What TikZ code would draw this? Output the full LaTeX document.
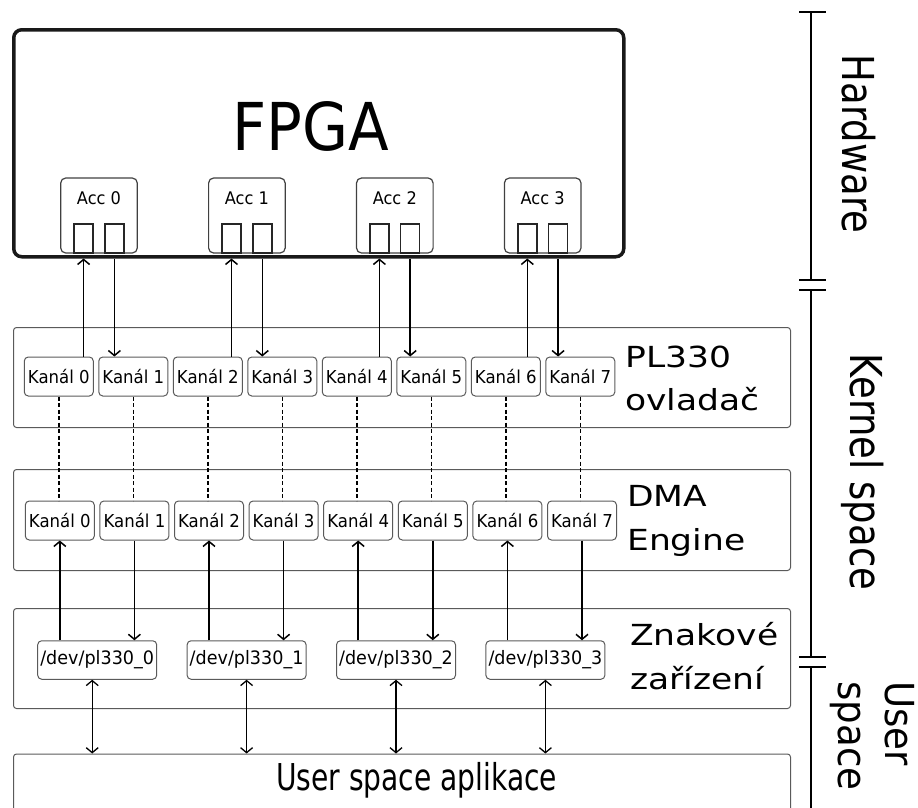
\documentclass[tikz,border=0pt]{standalone}
\usepackage{fontspec}
\setmainfont{DejaVu Sans}
\newfontfamily\fpgafont[FakeStretch=0.9]{DejaVu Sans}
\newfontfamily\layerfont[FakeStretch=1.19]{DejaVu Sans}
\newfontfamily\sidefont[FakeStretch=0.84]{DejaVu Sans}
\newfontfamily\userfont[FakeStretch=0.93]{DejaVu Sans}
\newfontfamily\appfont[FakeStretch=0.76]{DejaVu Sans}
\newfontfamily\smallfont[FakeStretch=0.93]{DejaVu Sans}
\newfontfamily\devfont[FakeStretch=0.95]{DejaVu Sans}
\usetikzlibrary{arrows.meta}
\definecolor{boxgray}{HTML}{5A5A5A}
\begin{document}
\begin{tikzpicture}[x=1pt,y=-1pt,
  layer/.style={draw=boxgray, line width=1pt, rounded corners=3pt, anchor=north west, inner sep=0pt, minimum width=777pt},
  chan/.style={draw=boxgray, line width=1pt, rounded corners=4pt, minimum width=69pt, minimum height=39pt, inner sep=0pt, font=\smallfont\fontsize{17.8}{21}\selectfont},
  devnode/.style={chan, minimum width=119pt, minimum height=38.5pt, font=\devfont\fontsize{18.5}{22}\selectfont},
  accbox/.style={draw=black!75, line width=1.2pt, rounded corners=5pt, minimum width=76.6pt, minimum height=75pt, inner sep=0pt},
  port/.style={draw=black!85, line width=1.4pt, minimum width=19pt, minimum height=29pt, inner sep=0pt},
  arr/.style={line width=1.5pt, -{Straight Barb[length=5pt,width=12pt]}},
  biarr/.style={line width=1.3pt, {Straight Barb[length=5pt,width=12pt]}-{Straight Barb[length=5pt,width=12pt]}},
  dashlink/.style={line width=1.5pt, dash pattern=on 4pt off 2.5pt},
  bracket/.style={line width=1.3pt},
  layerlab/.style={anchor=base west, align=left, inner sep=0pt, font=\layerfont\fontsize{29}{43.4}\selectfont},
  sidelab/.style={rotate=-90, anchor=base, inner sep=0pt, font=\sidefont\fontsize{44}{50}\selectfont},
]
\useasboundingbox (0,0) rectangle (918,807);

% FPGA
\node[draw=black!90, line width=3.5pt, rounded corners=8pt, anchor=north west,
      minimum width=610pt, minimum height=227pt, inner sep=0pt] (fpga) at (12,28) {};
\node[anchor=base, inner sep=0pt, font=\fpgafont\fontsize{66}{70}\selectfont] (fpgalab) at (311,150) {FPGA};

\foreach \i in {0,...,3}{
  \pgfmathsetmacro{\cx}{99+147.9*\i}
  \node[accbox] (acc\i) at (\cx,215.5) {};
  \node[anchor=base, inner sep=0pt, font=\smallfont\fontsize{17.4}{20}\selectfont] (acclab\i) at (\cx,204.3) {Acc \i};
  \node[port] (pa\i) at (\cx-15.4,238.5) {};
  \node[port] (pb\i) at (\cx+15.4,238.5) {};
}

% layers
\node[layer, minimum height=100pt] (plbox) at (13,327) {};
\node[layer, minimum height=101pt] (dmabox) at (13,469) {};
\node[layer, minimum height=100pt] (znbox) at (13,608) {};
\node[layer, minimum height=90pt] (appbox) at (13,753.5) {};

\node[layerlab] (pllab) at (625,410.7) {PL330\\ovladač};
\node[layerlab] (dmalab) at (627,550) {DMA\\Engine};
\node[layerlab] (znlab) at (630,689.3) {Znakové\\zařízení};
\node[anchor=base, inner sep=0pt, font=\appfont\fontsize{37}{40}\selectfont] (applab) at (416.7,790) {User space aplikace};

% channels
\foreach \i in {0,...,7}{
  \node[chan] (ka\i) at ({58.8+74.5*\i},376.5) {Kanál \i};
  \node[chan] (kb\i) at ({59.8+74.6*\i},520.5) {Kanál \i};
  \draw[dashlink] (ka\i.south) -- (ka\i.south |- kb\i.north);
}

\foreach \i in {0,...,3}{
  \node[devnode] (dev\i) at ({97.2+149.4*\i},660) {/dev/pl330\_\i};
}

% arrows FPGA <-> PL330 and DMA <-> devices
\foreach \i [evaluate=\i as \j using int(2*\i), evaluate=\i as \k using int(2*\i+1)] in {0,...,3}{
  \draw[arr] (pa\i |- ka\j.north) -- (pa\i |- fpga.south);
  \draw[arr] (pb\i |- fpga.south) -- (pb\i |- ka\k.north);
  \draw[arr] (kb\j.south |- dev\i.north) -- (kb\j.south);
  \draw[arr] (kb\k.south) -- (kb\k.south |- dev\i.north);
}

% dev <-> app
\foreach \i/\dx in {0/-5,1/0,2/0,3/0}{
  \draw[biarr] ([xshift=\dx pt]dev\i.south) -- ([xshift=\dx pt]dev\i.south |- appbox.north);
}

% side brackets
\coordinate (b0) at (811,12);
\coordinate (b1) at (811,280);
\coordinate (b2) at (811,290);
\coordinate (b3) at (811,657);
\coordinate (b4) at (811,667);
\coordinate (b5) at (811,820);
\draw[bracket] (b0) -- (b1);
\draw[bracket] (b2) -- (b3);
\draw[bracket] (b4) -- (b5);
\foreach \c in {b0,b1,b2,b3,b4}{
  \draw[bracket] ([xshift=-12pt]\c) -- ([xshift=15pt]\c);
}

\node[sidelab] (hwlab) at (842,144) {Hardware};
\node[sidelab] (kslab) at (850,472) {Kernel space};
\node[rotate=-90, anchor=base west, align=left, inner sep=0pt, font=\userfont\fontsize{40}{47}\selectfont] (uslab) at (838,681) {User\\space};
\end{tikzpicture}
\end{document}
